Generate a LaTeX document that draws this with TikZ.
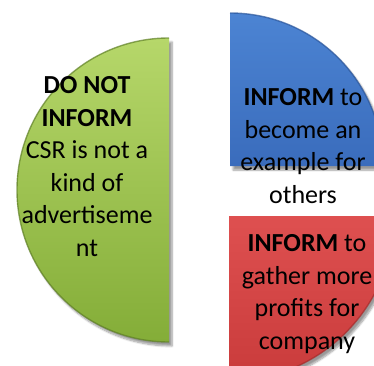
\documentclass[tikz,border=0pt]{standalone}
\usepackage{fontspec}
\setmainfont{Carlito}
\usetikzlibrary{shadows.blur}
\definecolor{leafhi}{HTML}{B6D76A}
\definecolor{leaflo}{HTML}{84AD38}
\definecolor{leafrim}{HTML}{5E7F25}
\definecolor{skyhi}{HTML}{4C84D3}
\definecolor{skylo}{HTML}{3A6CBC}
\definecolor{skyrim}{HTML}{2A559A}
\definecolor{rosehi}{HTML}{DE5050}
\definecolor{roselo}{HTML}{C93B3B}
\definecolor{roserim}{HTML}{A52B2B}
\begin{document}
\begin{tikzpicture}[x=1pt,y=1pt,
  petal/.style={blur shadow={shadow xshift=3pt,shadow yshift=-4pt,shadow blur steps=8,shadow opacity=40}},
  rim/.style={line width=1.4pt,opacity=0.7},
  caption/.style={font=\fontsize{26}{32.5}\selectfont,align=center,inner sep=0pt,anchor=north,text=black}]
\useasboundingbox (0,0) rectangle (374,365);
\begin{scope}
  \clip (0,0) rectangle (374,365);
  % left half disc
  \path[petal,top color=leafhi,bottom color=leaflo]
    (169,327) arc[start angle=90,end angle=270,radius=152] -- cycle;
  \draw[rim,leafrim] (169,327) arc[start angle=90,end angle=270,radius=152];
  % upper right quarter
  \path[petal,top color=skyhi,bottom color=skylo]
    (230,199) -- (383,199) arc[start angle=0,end angle=90,radius=153] -- cycle;
  \draw[rim,skyrim] (383,199) arc[start angle=0,end angle=90,radius=153];
  % lower right quarter
  \path[petal,top color=rosehi,bottom color=roselo]
    (229,149) -- (229,-16) arc[start angle=-90,end angle=0,radius=165] -- cycle;
  \draw[rim,roserim] (229,-16) arc[start angle=-90,end angle=0,radius=165];
\end{scope}
\node[caption] (dontinform) at (87,288.7)
  {\textbf{DO NOT}\\\textbf{INFORM}\\CSR is not a\\kind of\\advertiseme\\nt};
\node[caption] (example) at (303,276.7)
  {\textbf{INFORM} to\\become an\\example for\\others};
\node[caption] (profits) at (307,130.7)
  {\textbf{INFORM} to\\gather more\\profits for\\company};
\end{tikzpicture}
\end{document}
